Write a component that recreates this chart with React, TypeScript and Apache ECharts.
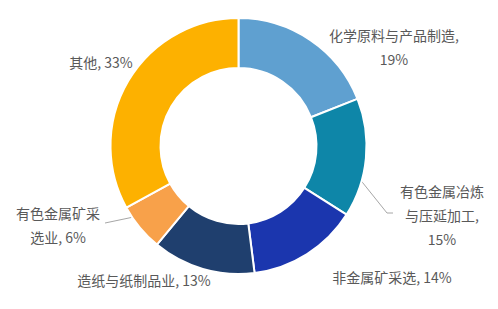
import React, { useEffect, useRef } from "react";
import * as echarts from "echarts";

const categories = ["化学原料与产品制造", "有色金属冶炼与压延加工", "非金属矿采选", "造纸与纸制品业", "有色金属矿采选业", "其他"];
const values = [19, 15, 14, 13, 6, 33];
const labelTexts = ["化学原料与产品制造,\n19%", "有色金属冶炼\n与压延加工,\n15%", "非金属矿采选, 14%", "造纸与纸制品业, 13%", "有色金属矿采\n选业, 6%", "其他, 33%"];
const colors = ["#5fa0d0", "#0e86a8", "#1b36ae", "#1f3f6e", "#f8a14a", "#fdb100"];

const CX = 238.5;
const CY = 146;
const R_IN = 78;
const R_OUT = 128;
// label anchor positions (layout)
const labelPos: [number, number][] = [
  [394, 47],
  [442, 215],
  [392, 277],
  [144, 280],
  [58, 225],
  [101, 62],
];
const leaderEnds: ([number, number][] | null)[] = [
  null,
  [[387, 213], [393, 213]],
  null,
  null,
  [[105, 223]],
  null,
];

export default function App() {
  const ref = useRef<HTMLDivElement>(null);
  useEffect(() => {
    if (!ref.current) return;
    const chart = echarts.init(ref.current, null, { renderer: "svg" });
    const total = values.reduce((a, b) => a + b, 0);
    const mids: number[] = [];
    let acc = 0;
    values.forEach((v) => {
      mids.push(((acc + v / 2) / total) * Math.PI * 2);
      acc += v;
    });
    chart.setOption({
      animation: false,
      backgroundColor: "#ffffff",
      series: [
        {
          type: "pie",
          center: [CX, CY],
          radius: [R_IN, R_OUT],
          startAngle: 90,
          clockwise: true,
          avoidLabelOverlap: false,
          itemStyle: { borderColor: "#ffffff", borderWidth: 2 },
          label: {
            show: true,
            position: "outside",
            color: "#595959",
            fontSize: 14,
            lineHeight: 24,
            fontFamily: "'Noto Sans CJK SC', sans-serif",
            formatter: (p: any) => labelTexts[p.dataIndex],
          },
          labelLine: { show: true, lineStyle: { color: "#a6a6a6", width: 1 } },
          labelLayout: (p: any) => {
            const i = p.dataIndex;
            const [x, y] = labelPos[i];
            const res: any = { x, y, align: "center", verticalAlign: "middle" };
            const ends = leaderEnds[i];
            if (ends) {
              const r = (R_IN + R_OUT) / 2;
              const a = mids[i];
              const start: [number, number] = [CX + r * Math.sin(a), CY - r * Math.cos(a)];
              res.labelLinePoints = [start, ...ends];
            }
            return res;
          },
          data: categories.map((name, i) => ({
            name,
            value: values[i],
            itemStyle: { color: colors[i] },
            labelLine: { show: !!leaderEnds[i] },
          })),
        },
      ],
    });
    return () => chart.dispose();
  }, []);
  return <div ref={ref} style={{ position: "fixed", left: 0, top: 0, width: 498, height: 309 }} />;
}
